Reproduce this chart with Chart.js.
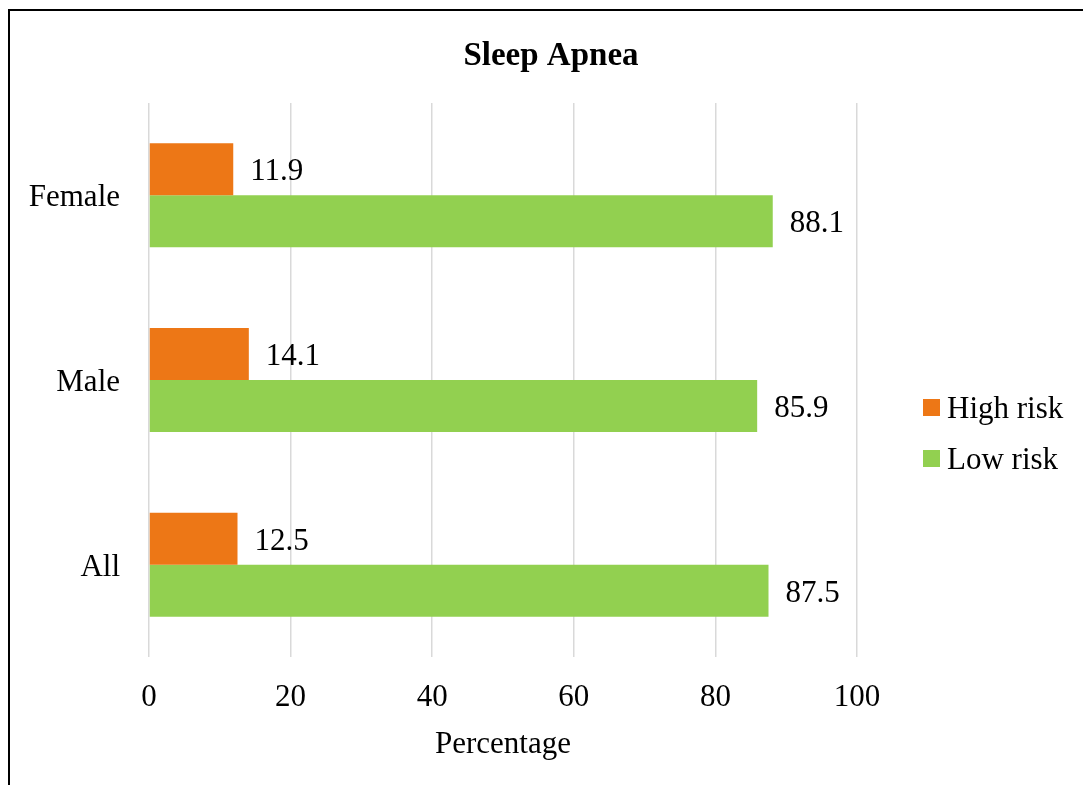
<!DOCTYPE html>
<html>
<head>
<meta charset="utf-8">
<script src="https://cdn.jsdelivr.net/npm/chart.js@4/dist/chart.umd.min.js"></script>
<style>
  html, body { margin: 0; padding: 0; background: #fff; }
  #wrap { position: relative; width: 1083px; height: 785px; overflow: hidden; }
  #frame {
    position: absolute; left: 8px; top: 9px; width: 1200px; height: 900px;
    border-left: 2px solid #000; border-top: 2px solid #000;
  }
  canvas { position: absolute; left: 0; top: 0; }
</style>
</head>
<body>
<div id="wrap">
  <div id="frame"></div>
  <canvas id="chart" width="1083" height="785"></canvas>
</div>
<script>
const categories = ['Female', 'Male', 'All'];
const highRisk = [11.9, 14.1, 12.5];
const lowRisk = [88.1, 85.9, 87.5];
const xTicks = [0, 20, 40, 60, 80, 100];
const chartTitle = 'Sleep Apnea';

const FONT = "'Liberation Serif', 'Times New Roman', serif";

// value labels at the end of each bar
const barLabels = {
  id: 'barLabels',
  afterDatasetsDraw(chart) {
    const ctx = chart.ctx;
    ctx.save();
    ctx.font = '31px ' + FONT;
    ctx.fillStyle = '#000';
    ctx.textBaseline = 'middle';
    ctx.textAlign = 'left';
    chart.data.datasets.forEach((ds, i) => {
      chart.getDatasetMeta(i).data.forEach((bar, j) => {
        ctx.fillText(ds.data[j].toFixed(1), bar.x + 17, bar.y + 3);
      });
    });
    ctx.restore();
  }
};

// title centred on the whole frame + legend on the right
const titleAndLegend = {
  id: 'titleAndLegend',
  afterDraw(chart) {
    const ctx = chart.ctx;
    ctx.save();
    ctx.fillStyle = '#000';
    ctx.textBaseline = 'middle';
    ctx.textAlign = 'center';
    ctx.font = 'bold 33px ' + FONT;
    ctx.fillText(chartTitle, 551, 56);

    ctx.textAlign = 'left';
    ctx.font = '31px ' + FONT;
    chart.data.datasets.forEach((ds, i) => {
      const y = 407 + i * 51;
      ctx.fillStyle = ds.backgroundColor;
      ctx.fillRect(923, y - 8, 17, 17);
      ctx.fillStyle = '#000';
      ctx.fillText(ds.label, 947, y + 3);
    });
    ctx.restore();
  }
};

new Chart(document.getElementById('chart'), {
  type: 'bar',
  data: {
    labels: categories,
    datasets: [
      { label: 'High risk', data: highRisk, backgroundColor: '#ED7716' },
      { label: 'Low risk', data: lowRisk, backgroundColor: '#92D050' }
    ]
  },
  options: {
    indexAxis: 'y',
    responsive: false,
    animation: false,
    devicePixelRatio: 1,
    layout: { padding: { left: 0, right: 226, top: 103, bottom: 0 } },
    datasets: { bar: { categoryPercentage: 0.563, barPercentage: 1 } },
    plugins: {
      legend: { display: false },
      tooltip: { enabled: false },
      title: { display: false }
    },
    scales: {
      x: {
        min: 0,
        max: 100,
        afterBuildTicks: s => { s.ticks = xTicks.map(v => ({ value: v })); },
        afterFit: s => { s.height = 128; },
        border: { display: false },
        grid: { color: '#d9d9d9', lineWidth: 1.5, drawTicks: false },
        ticks: { color: '#000', padding: 22, font: { family: FONT, size: 31 } },
        title: {
          display: true,
          text: 'Percentage',
          color: '#000',
          font: { family: FONT, size: 31 },
          padding: { top: 0, bottom: 22 }
        }
      },
      y: {
        afterFit: s => { s.width = 149; },
        border: { display: false },
        grid: { display: false, drawTicks: false },
        ticks: { color: '#000', padding: 29, labelOffset: 3, font: { family: FONT, size: 31 } }
      }
    }
  },
  plugins: [barLabels, titleAndLegend]
});
</script>
</body>
</html>
